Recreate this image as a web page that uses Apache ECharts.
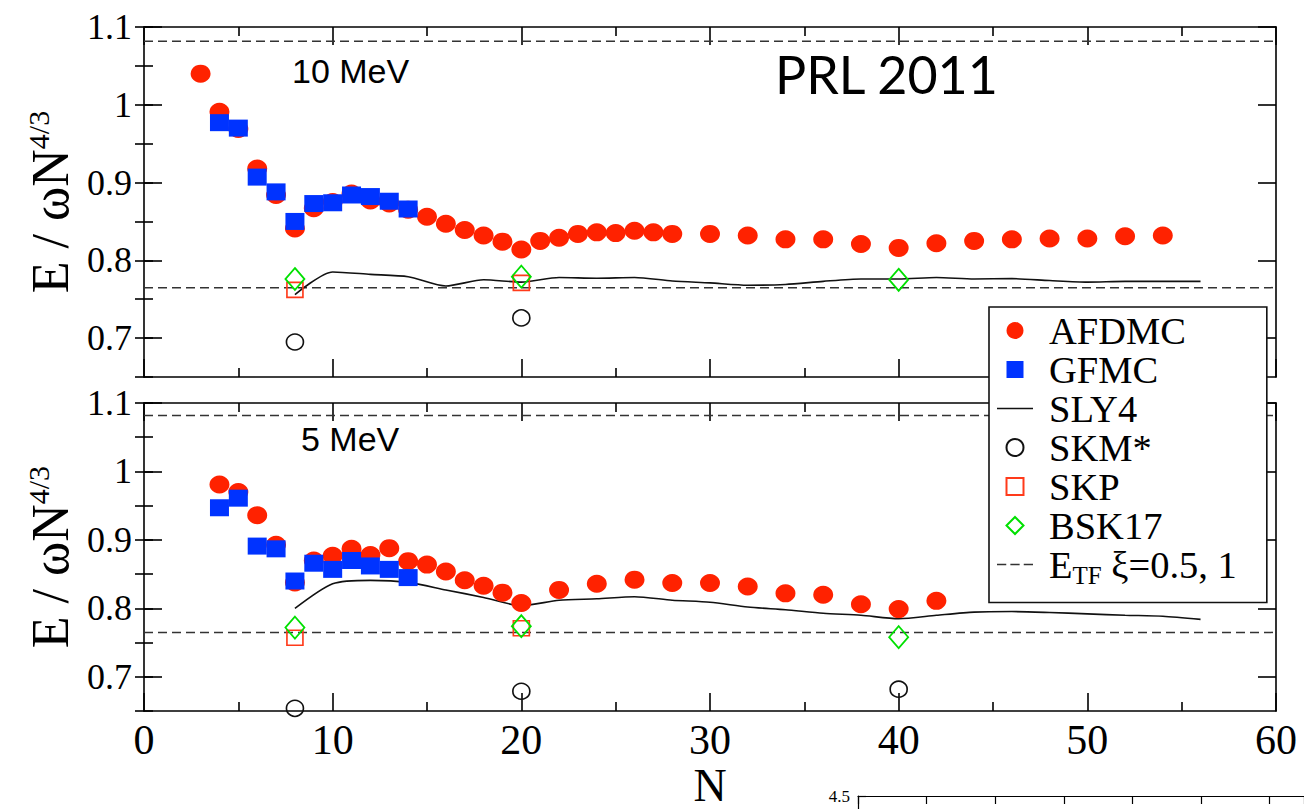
<!DOCTYPE html>
<html><head><meta charset="utf-8">
<script src="https://cdn.jsdelivr.net/npm/echarts@6/dist/echarts.min.js"></script>
<style>html,body{margin:0;padding:0;background:#fff}#c{width:1304px;height:809px}</style>
</head><body><div id="c"></div>
<script>
// ---------- data: 10 MeV (top panel) ----------
const N_AFDMC_10 = [3,4,5,6,7,8,9,10,11,12,13,14,15,16,17,18,19,20,21,22,23,24,25,26,27,28,30,32,34,36,38,40,42,44,46,48,50,52,54];
const E_AFDMC_10 = [1.040,0.991,0.969,0.918,0.884,0.841,0.867,0.875,0.886,0.877,0.873,0.865,0.856,0.847,0.839,0.832,0.824,0.814,0.825,0.829,0.834,0.836,0.835,0.838,0.836,0.834,0.834,0.832,0.827,0.827,0.821,0.816,0.822,0.825,0.827,0.828,0.828,0.831,0.832];
const N_GFMC_10 = [4,5,6,7,8,9,10,11,12,13,14];
const E_GFMC_10 = [0.977,0.970,0.907,0.888,0.850,0.873,0.874,0.884,0.882,0.876,0.866];
const N_SLY4 = [8,10,12,14,16,18,20,22,24,26,28,30,32,34,36,38,40,42,44,46,48,50,52,54,56];
const E_SLY4_10 = [0.756,0.785,0.782,0.779,0.767,0.775,0.772,0.778,0.777,0.778,0.7735,0.771,0.768,0.769,0.773,0.776,0.776,0.778,0.776,0.7765,0.774,0.772,0.773,0.773,0.773];
const N_SKM_10 = [8,20];
const E_SKM_10 = [0.695,0.726];
const N_SKP_10 = [8,20];
const E_SKP_10 = [0.762,0.771];
const N_BSK_10 = [8,20,40];
const E_BSK_10 = [0.776,0.779,0.775];

// ---------- data: 5 MeV (bottom panel) ----------
const N_AFDMC_5 = [4,5,6,7,8,9,10,11,12,13,14,15,16,17,18,19,20,22,24,26,28,30,32,34,36,38,40,42];
const E_AFDMC_5 = [0.981,0.970,0.936,0.893,0.838,0.870,0.877,0.887,0.878,0.888,0.869,0.864,0.854,0.841,0.833,0.823,0.808,0.827,0.836,0.842,0.837,0.837,0.832,0.822,0.820,0.806,0.799,0.811];
const N_GFMC_5 = [4,5,6,7,8,9,10,11,12,13,14];
const E_GFMC_5 = [0.947,0.961,0.891,0.887,0.840,0.866,0.857,0.870,0.862,0.857,0.845];
const E_SLY4_5 = [0.800,0.836,0.841,0.838,0.827,0.816,0.804,0.812,0.814,0.817,0.812,0.809,0.802,0.798,0.793,0.790,0.785,0.790,0.7946,0.7954,0.794,0.792,0.790,0.7885,0.784];
const N_SKM_5 = [8,20,40];
const E_SKM_5 = [0.654,0.679,0.682];
const N_SKP_5 = [8,20];
const E_SKP_5 = [0.757,0.771];
const N_BSK_5 = [8,20,40];
const E_BSK_5 = [0.772,0.774,0.758];

// E_TF for xi = 1 and xi = 0.5
const E_TF = [1.0817, 0.7649];
const X_RANGE = [0, 60];

const Y_TICKS = [0.7,0.8,0.9,1.0,1.1];
const X_TICK_LABELS = ['0','10','20','30','40','50','60'];

const NAMES = ['AFDMC','GFMC','SLY4','SKM*','SKP','BSK17','E_TF ξ=0.5, 1'];

// ---------- helpers ----------
const zip = (a, b) => a.map((v, i) => [v, b[i]]);
const SERIF = '"Liberation Serif","DejaVu Serif",serif';
const SANS = '"Liberation Sans",Arial,sans-serif';
const RED = '#ff2200', BLUE = '#0033ff', GREEN = '#00e000', SKPRED = '#ff3a1a';

function xAx(grid, pos, labels) {
  return {
    type:'value', gridIndex:grid, position:pos, min:X_RANGE[0], max:X_RANGE[1], interval:10,
    axisLine:{show:true, onZero:false, lineStyle:{color:'#000', width:1.6}},
    axisTick:{show:true, inside:true, length:18, lineStyle:{color:'#000', width:1.6}},
    minorTick:{show:true, splitNumber:2, length:9, lineStyle:{color:'#000', width:1.6}},
    axisLabel:{show:labels, color:'#000', fontFamily:SERIF, fontSize:42, margin:8,
      formatter:v => X_TICK_LABELS[Math.round(v/10)]},
    splitLine:{show:false}, minorSplitLine:{show:false}
  };
}
function yMajor(grid, pos, labels, name) {
  const ax = {
    type:'value', gridIndex:grid, position:pos, min:0.65, max:1.1,
    axisLine:{show:true, onZero:false, lineStyle:{color:'#000', width:1.6}},
    axisTick:{show:true, inside:true, length:18, customValues:Y_TICKS, lineStyle:{color:'#000', width:1.6}},
    axisLabel:{show:labels, customValues:Y_TICKS, color:'#000', fontFamily:SERIF, fontSize:36, margin:12,
      formatter:v => String(Math.round(v*10)/10)},
    splitLine:{show:false}
  };
  if (name) {
    ax.name = '{a|E / ωN}{s|4/3}';
    ax.nameLocation = 'middle';
    ax.nameGap = 56;
    ax.nameRotate = 90;
    ax.nameTextStyle = {color:'#000', fontFamily:SERIF, fontSize:52,
      rich:{a:{fontFamily:SERIF, fontSize:52, color:'#000', lineHeight:54},
            s:{fontFamily:SERIF, fontSize:30, color:'#000', lineHeight:30, verticalAlign:'top'}}};
  }
  return ax;
}
function yMinor(grid, pos) {
  return {
    type:'value', gridIndex:grid, position:pos, min:0.65, max:1.1, interval:0.05,
    axisLine:{show:false},
    axisTick:{show:true, inside:true, length:9, lineStyle:{color:'#000', width:1.6}},
    axisLabel:{show:false}, splitLine:{show:false}
  };
}

function panelSeries(p, d) {
  const xi = p*2, yi = p*4;
  const base = {xAxisIndex:xi, yAxisIndex:yi, clip:false};
  return [
    Object.assign({name:'SKM*', type:'scatter', symbol:'circle', symbolSize:[17,16], z:3,
      itemStyle:{color:'rgba(255,255,255,0)', borderColor:'#111', borderWidth:1.6, opacity:1}, data:zip(d.skmN, d.skm)}, base),
    Object.assign({name:'SKP', type:'scatter', symbol:'rect', symbolSize:[16,15], z:3,
      itemStyle:{color:'rgba(255,255,255,0)', borderColor:SKPRED, borderWidth:1.6, opacity:1}, data:zip(d.skpN, d.skp)}, base),
    Object.assign({name:'E_TF ξ=0.5, 1', type:'line', symbol:'none', z:2, itemStyle:{color:'#333'},
      lineStyle:{color:'#333', width:1.5, type:[9,5]}, data:zip(X_RANGE, [E_TF[0],E_TF[0]])}, base),
    Object.assign({name:'E_TF ξ=0.5, 1', type:'line', symbol:'none', z:2, itemStyle:{color:'#333'},
      lineStyle:{color:'#333', width:1.5, type:[9,5]}, data:zip(X_RANGE, [E_TF[1],E_TF[1]])}, base),
    Object.assign({name:'SLY4', type:'line', symbol:'none', smooth:0.25, z:3, itemStyle:{color:'#111'},
      lineStyle:{color:'#111', width:1.6}, data:zip(N_SLY4, d.sly)}, base),
    Object.assign({name:'BSK17', type:'scatter', symbol:'diamond', symbolSize:[19,22], z:4,
      itemStyle:{color:'rgba(255,255,255,0)', borderColor:GREEN, borderWidth:1.8, opacity:1}, data:zip(d.bskN, d.bsk)}, base),
    Object.assign({name:'AFDMC', type:'scatter', symbol:'circle', symbolSize:[20,18], z:5,
      itemStyle:{color:RED, opacity:1}, data:zip(d.afN, d.af)}, base),
    Object.assign({name:'GFMC', type:'scatter', symbol:'rect', symbolSize:[19,17], z:6,
      itemStyle:{color:BLUE, opacity:1}, data:zip(d.gfN, d.gf)}, base)
  ];
}

const series = [].concat(
  panelSeries(0, {afN:N_AFDMC_10, af:E_AFDMC_10, gfN:N_GFMC_10, gf:E_GFMC_10, sly:E_SLY4_10,
    skmN:N_SKM_10, skm:E_SKM_10, skpN:N_SKP_10, skp:E_SKP_10, bskN:N_BSK_10, bsk:E_BSK_10}),
  panelSeries(1, {afN:N_AFDMC_5, af:E_AFDMC_5, gfN:N_GFMC_5, gf:E_GFMC_5, sly:E_SLY4_5,
    skmN:N_SKM_5, skm:E_SKM_5, skpN:N_SKP_5, skp:E_SKP_5, bskN:N_BSK_5, bsk:E_BSK_5})
);

const xBottom2 = xAx(1, 'bottom', true);
xBottom2.name = 'N';
xBottom2.nameLocation = 'middle';
xBottom2.nameGap = 50;
xBottom2.nameTextStyle = {color:'#000', fontFamily:SERIF, fontSize:46};

const SQUARE = 'path://M0,0H10V10H0Z';
const DIAMOND = 'path://M5,0L10,5L5,10L0,5Z';
const SOLID = 'path://M0,0H36V1.6H0Z';
const DASHED = 'path://M0,0H9V1.6H0Z M13,0H22V1.6H13Z M26,0H35V1.6H26Z';
const LEGEND_ICONS = {'AFDMC':'circle','GFMC':SQUARE,'SLY4':SOLID,'SKM*':'circle','SKP':SQUARE,'BSK17':DIAMOND,'E_TF ξ=0.5, 1':DASHED};

const option = {
  animation:false,
  backgroundColor:'#fff',
  title:[
    {text:'10 MeV', left:292, top:54, padding:0, textStyle:{fontFamily:SANS, fontSize:34, fontWeight:'normal', color:'#000'}},
    {text:'5 MeV', left:301, top:422, padding:0, textStyle:{fontFamily:SANS, fontSize:34, fontWeight:'normal', color:'#000'}},
    {text:'PRL 2011', left:775, top:48, padding:0, textStyle:{fontFamily:'Lato, "Liberation Sans", sans-serif', fontSize:52, fontWeight:'normal', color:'#000'}}
  ],
  grid:[
    {left:144, top:27, width:1132, height:350},
    {left:144, top:403, width:1132, height:321},
    {left:858, top:796, width:460, height:60}
  ],
  xAxis:[
    xAx(0,'bottom',false), xAx(0,'top',false),
    xBottom2, xAx(1,'top',false),
    {type:'value', gridIndex:2, position:'top', min:0, max:6.5, interval:1,
      axisLine:{show:true, onZero:false, lineStyle:{color:'#000', width:1.2}},
      axisTick:{show:true, inside:true, length:8, lineStyle:{color:'#000', width:1.2}},
      axisLabel:{show:false}, splitLine:{show:false}}
  ],
  yAxis:[
    yMajor(0,'left',true,true), yMinor(0,'left'), yMajor(0,'right',false,false), yMinor(0,'right'),
    yMajor(1,'left',true,true), yMinor(1,'left'), yMajor(1,'right',false,false), yMinor(1,'right'),
    {type:'value', gridIndex:2, position:'left', min:4, max:4.5, interval:0.5,
      axisLine:{show:true, onZero:false, lineStyle:{color:'#000', width:1.2}},
      axisTick:{show:true, inside:true, length:8, lineStyle:{color:'#000', width:1.2}},
      axisLabel:{color:'#000', fontFamily:SERIF, fontSize:17, margin:8, formatter:v => v === 4.5 ? '4.5' : ''},
      splitLine:{show:false}}
  ],
  legend:{
    orient:'vertical', left:989, top:307,
    padding:[4, 30, 15, 8], itemGap:0, itemWidth:36, itemHeight:17,
    backgroundColor:'#fff', borderColor:'#111', borderWidth:1.6, borderRadius:0,
    selectedMode:false,
    data:NAMES.map(n => ({name:n, icon:LEGEND_ICONS[n]})),
    formatter:n => n.indexOf('E_TF') === 0 ? '{e|E}{sub|TF}{e| ξ=0.5, 1}' : '{t|' + n + '}',
    textStyle:{fontFamily:SERIF, fontSize:38.5, color:'#000', padding:[0,0,0,11],
      rich:{t:{fontFamily:SERIF, fontSize:38.5, color:'#000', lineHeight:38},
            e:{fontFamily:SERIF, fontSize:38.5, color:'#000', lineHeight:46},
            sub:{fontFamily:SERIF, fontSize:25, color:'#000', lineHeight:25, verticalAlign:'bottom'}}}
  },
  series:series
};

const chart = echarts.init(document.getElementById('c'), null, {renderer:'svg', width:1304, height:809});
chart.setOption(option);
</script>
</body></html>
